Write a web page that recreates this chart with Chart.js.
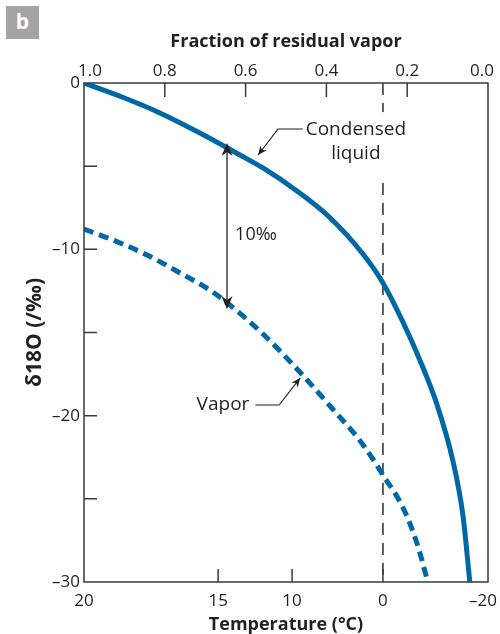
<!DOCTYPE html>
<html>
<head>
<meta charset="utf-8">
<script src="https://cdn.jsdelivr.net/npm/chart.js@4.4.1/dist/chart.umd.min.js"></script>
<style>
    body { margin: 0; background: #fff; }
    #wrap { position: relative; width: 500px; height: 634px; }
    #tag {
        position: absolute; left: 6px; top: 6px; width: 33px; height: 33px;
        background: #a3a3a3; color: #fff; text-align: center;
        font: bold 21px "Open Sans", sans-serif; line-height: 31px;
    }
</style>
</head>
<body>
<div id="wrap">
    <canvas id="rayleighChart"></canvas>
    <div id="tag">b</div>
</div>
<script>
// Rayleigh fractionation: δ18O of condensate and remaining vapour
const liquidFrac  = [1.0, 0.906, 0.812, 0.713, 0.614, 0.557, 0.473, 0.391, 0.309, 0.260, 0.210, 0.168, 0.126, 0.087, 0.062, 0.045];
const liquidDelta = [0, -0.84, -1.80, -3.01, -4.33, -5.11, -6.49, -8.10, -10.30, -12.02, -14.40, -16.70, -19.35, -22.70, -26.00, -30.0];

const vaporFrac  = [1.0, 0.928, 0.844, 0.762, 0.681, 0.621, 0.557, 0.473, 0.391, 0.309, 0.260, 0.210, 0.176, 0.149];
const vaporDelta = [-8.78, -9.44, -10.34, -11.42, -12.57, -13.71, -15.09, -17.19, -19.42, -21.76, -23.57, -25.55, -27.66, -30.0];

// temperature labels along the bottom, placed at their vapour fraction
const tempLabels = ['20', '15', '10', '0', '–20'];
const tempFrac   = [1.0, 0.668, 0.485, 0.26, 0.0];

const freezingFrac = 0.26;   // 0 °C
const gapPermil = 10;        // liquid–vapour offset shown by the double arrow

const BLUE = '#0067a7';
const INK = '#231f20';
const AXIS = '#3a3a3a';
const FONT = '"Open Sans", sans-serif';

function pairs(xs, ys) {
    return xs.map((x, i) => ({ x: x, y: ys[i] }));
}

function minus(v) {
    return v < 0 ? '–' + Math.abs(v) : String(v);
}

// notched arrow head with its tip at (x, y), pointing along angle
function arrowHead(ctx, x, y, angle, len, half) {
    ctx.save();
    ctx.translate(x, y);
    ctx.rotate(angle);
    ctx.beginPath();
    ctx.moveTo(0, 0);
    ctx.lineTo(-len, -half);
    ctx.lineTo(-len * 0.7, 0);
    ctx.lineTo(-len, half);
    ctx.closePath();
    ctx.fill();
    ctx.restore();
}

// pull the corner labels a little inside the frame
const edgeLabels = {
    id: 'edgeLabels',
    beforeDraw(chart) {
        const nudge = { '1.0': 6, '0.0': -6, '–20': -5 };
        ['x', 'xT'].forEach(id => {
            chart.scales[id].getLabelItems().forEach(it => {
                if (nudge[it.label] !== undefined) it.options.translation[0] += nudge[it.label];
            });
        });
    }
};

// box outline plus short inward tick marks
const frameTicks = {
    id: 'frameTicks',
    afterDatasetsDraw(chart) {
        const { ctx, chartArea: a, scales } = chart;
        ctx.save();
        ctx.strokeStyle = AXIS;
        ctx.lineWidth = 1.5;
        ctx.strokeRect(a.left, a.top, a.right - a.left, a.bottom - a.top);
        ctx.beginPath();
        scales.x.ticks.forEach(t => {
            const px = scales.x.getPixelForValue(t.value);
            if (px > a.left + 2 && px < a.right - 2) {
                ctx.moveTo(px, a.top);
                ctx.lineTo(px, a.top + 14);
            }
        });
        scales.xT.ticks.forEach(t => {
            const px = scales.xT.getPixelForValue(t.value);
            if (px > a.left + 2 && px < a.right - 2) {
                ctx.moveTo(px, a.bottom);
                ctx.lineTo(px, a.bottom - 13);
            }
        });
        scales.y.ticks.forEach(t => {
            const py = scales.y.getPixelForValue(t.value);
            if (py > a.top + 2 && py < a.bottom - 2) {
                ctx.moveTo(a.left, py);
                ctx.lineTo(a.left + 13, py);
            }
        });
        ctx.stroke();
        ctx.restore();
    }
};

// curve labels, leaders and the 10‰ double arrow
const notes = {
    id: 'notes',
    afterDatasetsDraw(chart) {
        const { ctx, scales } = chart;
        const X = v => scales.x.getPixelForValue(v);
        const Y = v => scales.y.getPixelForValue(v);
        ctx.save();
        ctx.font = '19px ' + FONT;
        ctx.textAlign = 'center';
        ctx.textBaseline = 'middle';

        // "Condensed liquid" sits on a white patch that breaks the 0 °C line
        const cx = X(0.327), cy1 = Y(-2.83), cy2 = Y(-4.27);
        const w = ctx.measureText('Condensed').width;
        ctx.fillStyle = '#fff';
        ctx.fillRect(cx - w / 2 - 4, cy1 - 18, w + 8, cy2 - cy1 + 42);
        ctx.fillStyle = INK;
        ctx.fillText('Condensed', cx, cy1);
        ctx.fillText('liquid', cx, cy2);

        ctx.strokeStyle = INK;
        ctx.lineWidth = 1.1;
        ctx.beginPath();
        ctx.moveTo(cx - w / 2 - 3, Y(-2.77));
        ctx.lineTo(X(0.520), Y(-2.77));
        const tipL = { x: X(0.569), y: Y(-4.33) };
        ctx.lineTo(tipL.x, tipL.y);
        ctx.stroke();
        arrowHead(ctx, tipL.x, tipL.y, Math.atan2(tipL.y - Y(-2.77), tipL.x - X(0.520)), 9, 4);

        // Vapor label
        const vx = X(0.656), vy = Y(-19.36);
        const vw = ctx.measureText('Vapor').width;
        ctx.fillText('Vapor', vx, vy);
        ctx.beginPath();
        ctx.moveTo(vx + vw / 2 + 6, vy);
        ctx.lineTo(X(0.517), vy);
        const tipV = { x: X(0.465), y: Y(-17.74) };
        ctx.lineTo(tipV.x, tipV.y);
        ctx.stroke();
        arrowHead(ctx, tipV.x, tipV.y, Math.atan2(tipV.y - vy, tipV.x - X(0.517)), 9, 4);

        // double arrow spanning gapPermil, centred between the curves
        const ax = X(0.646);
        const mid = -8.6;
        const top = Y(mid + gapPermil / 2), bot = Y(mid - gapPermil / 2);
        ctx.lineWidth = 1.3;
        ctx.beginPath();
        ctx.moveTo(ax, top + 8);
        ctx.lineTo(ax, bot - 8);
        ctx.stroke();
        arrowHead(ctx, ax, top, -Math.PI / 2, 13, 5.5);
        arrowHead(ctx, ax, bot, Math.PI / 2, 13, 5.5);
        ctx.font = '18px ' + FONT;
        ctx.textAlign = 'left';
        ctx.fillText(gapPermil + '‰', X(0.626), Y(mid - 0.55));
        ctx.restore();
    }
};

const tickFont = { family: FONT, size: 17, lineHeight: 1 };
const titleFont = { family: FONT, size: 18, weight: 'bold', lineHeight: 1 };

new Chart(document.getElementById('rayleighChart'), {
    type: 'scatter',
    data: {
        datasets: [{
            label: 'Condensed liquid',
            data: pairs(liquidFrac, liquidDelta),
            showLine: true,
            borderColor: BLUE,
            borderWidth: 5,
            pointRadius: 0,
            cubicInterpolationMode: 'monotone'
        }, {
            label: 'Vapor',
            data: pairs(vaporFrac, vaporDelta),
            showLine: true,
            borderColor: BLUE,
            borderWidth: 5,
            borderDash: [10, 6],
            pointRadius: 0,
            cubicInterpolationMode: 'monotone'
        }, {
            label: '0 °C',
            data: [{ x: freezingFrac, y: 0 }, { x: freezingFrac, y: -30 }],
            showLine: true,
            borderColor: AXIS,
            borderWidth: 1.6,
            borderDash: [12, 8],
            pointRadius: 0
        }]
    },
    options: {
        responsive: true,
        maintainAspectRatio: false,
        animation: false,
        layout: { padding: { top: 0, right: 12, bottom: 0, left: 0 } },
        plugins: {
            legend: { display: false },
            tooltip: { enabled: false }
        },
        scales: {
            x: {
                type: 'linear',
                position: 'top',
                min: 0,
                max: 1,
                reverse: true,
                grid: { display: false, drawTicks: false },
                border: { display: false },
                ticks: {
                    stepSize: 0.2,
                    padding: 3,
                    maxRotation: 0,
                    color: INK,
                    font: tickFont,
                    callback: v => v.toFixed(1)
                },
                title: {
                    display: true,
                    text: 'Fraction of residual vapor',
                    color: INK,
                    font: titleFont,
                    padding: { top: 33, bottom: 0 }
                },
                afterFit: s => { s.height = 83; s.paddingLeft = 0; s.paddingRight = 0; }
            },
            xT: {
                type: 'linear',
                position: 'bottom',
                min: 0,
                max: 1,
                reverse: true,
                grid: { display: false, drawTicks: false },
                border: { display: false },
                afterBuildTicks: s => { s.ticks = tempFrac.map(v => ({ value: v })); },
                ticks: {
                    padding: 11,
                    maxRotation: 0,
                    autoSkip: false,
                    color: INK,
                    font: tickFont,
                    callback: (v, i) => tempLabels[i]
                },
                title: {
                    display: true,
                    text: 'Temperature (°C)',
                    color: INK,
                    font: titleFont,
                    padding: { top: 0, bottom: 0 }
                },
                afterFit: s => { s.height = 52; s.paddingLeft = 0; s.paddingRight = 0; }
            },
            y: {
                type: 'linear',
                min: -30,
                max: 0,
                grid: { display: false, drawTicks: false },
                border: { display: false },
                ticks: {
                    stepSize: 5,
                    padding: 4,
                    color: INK,
                    font: tickFont,
                    callback: v => (v % 10 === 0 ? minus(v) : '')
                },
                title: {
                    display: true,
                    text: 'δ18O (/‰)',
                    color: INK,
                    font: { family: FONT, size: 21, weight: 'bold', lineHeight: 1.2 },
                    padding: { top: 22, bottom: 0 }
                },
                afterFit: s => { s.width = 84; }
            }
        }
    },
    plugins: [edgeLabels, frameTicks, notes]
});
</script>
</body>
</html>
